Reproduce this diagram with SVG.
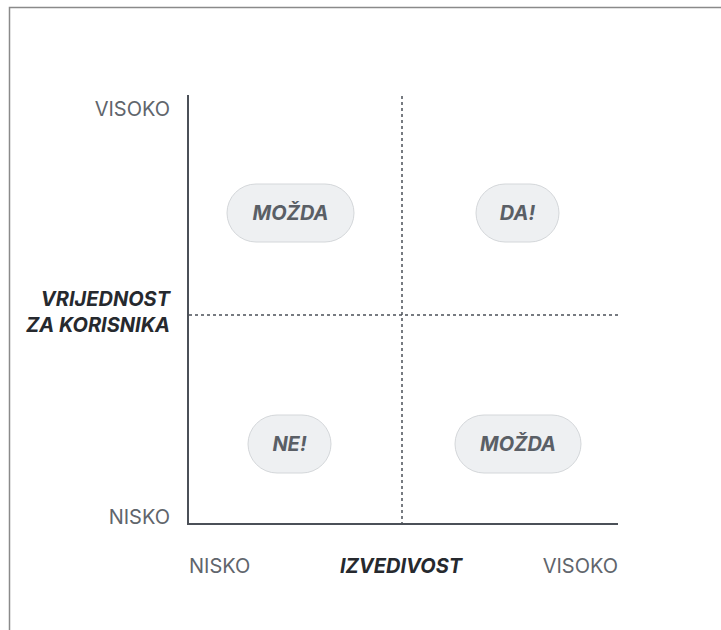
<svg xmlns="http://www.w3.org/2000/svg" width="721" height="630" viewBox="0 0 721 630">
<style>
.lbl{font-family:Inter,"Liberation Sans",sans-serif;font-size:20px;fill:#60656c}
.ttl{font-family:Inter,"Liberation Sans",sans-serif;font-size:20px;font-weight:700;font-style:italic;fill:#26292e}
.pill rect{fill:#eef0f2;stroke:#d4d7da;stroke-width:1}
.pill text{font-family:Inter,"Liberation Sans",sans-serif;font-size:20px;font-weight:700;font-style:italic;fill:#5a5f66;text-anchor:middle}
.axis{stroke:#4b5058;stroke-width:2;fill:none}
.dot{stroke:#4b5058;stroke-width:1.5;stroke-dasharray:3 3;fill:none}
</style>
<rect x="0" y="0" width="721" height="630" fill="#ffffff"/>
<path d="M9.5 640 V7.5 H730" fill="none" stroke="#8a8a8a" stroke-width="1.5"/>
<g id="connectors">
<line class="dot" x1="402" y1="96" x2="402" y2="523"/>
<line class="dot" x1="189" y1="315" x2="620" y2="315"/>
<path class="axis" d="M188 95 V524 H618"/>
</g>
<g id="labels">
<text class="lbl" x="170" y="116" text-anchor="end">VISOKO</text>
<text class="lbl" x="170" y="524" text-anchor="end">NISKO</text>
<text class="lbl" x="189" y="573">NISKO</text>
<text class="lbl" x="618" y="573" text-anchor="end">VISOKO</text>
<text class="ttl" x="401" y="573" text-anchor="middle">IZVEDIVOST</text>
<text class="ttl" x="170" y="306" text-anchor="end">VRIJEDNOST</text>
<text class="ttl" x="170" y="332" text-anchor="end">ZA KORISNIKA</text>
</g>
<g id="node-mozda-top" class="pill">
<rect x="227" y="184" width="127" height="58" rx="29"/>
<text x="290.5" y="220">MOŽDA</text>
</g>
<g id="node-da" class="pill">
<rect x="476" y="184" width="83" height="58" rx="29"/>
<text x="517.5" y="220">DA!</text>
</g>
<g id="node-ne" class="pill">
<rect x="248" y="415" width="83" height="58" rx="29"/>
<text x="289.5" y="451">NE!</text>
</g>
<g id="node-mozda-bottom" class="pill">
<rect x="455" y="415" width="126" height="58" rx="29"/>
<text x="518" y="451">MOŽDA</text>
</g>
</svg>
